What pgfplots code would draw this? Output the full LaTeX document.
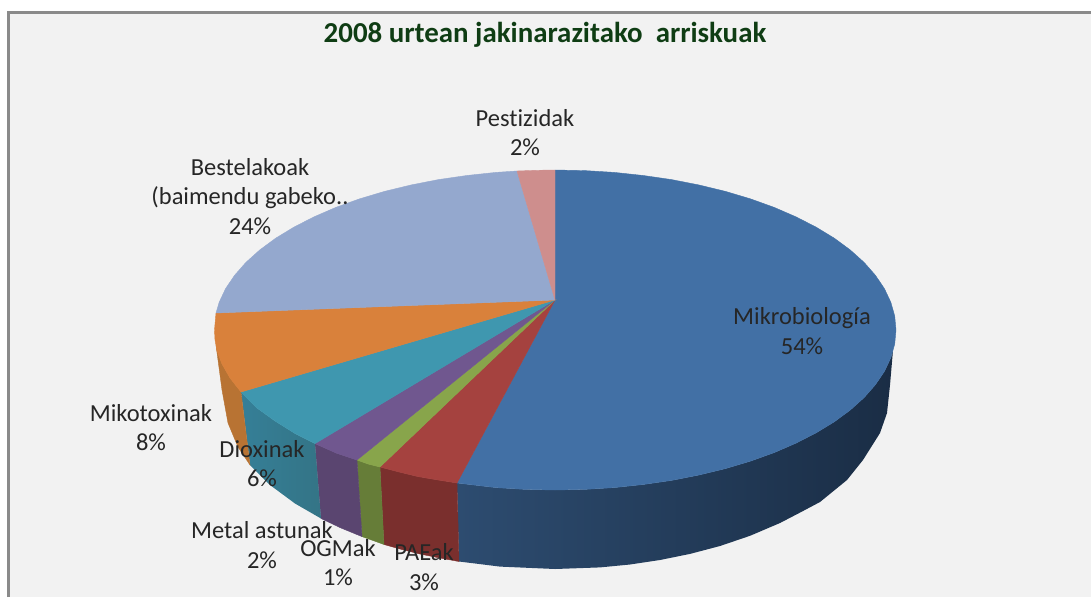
\documentclass[border=0pt]{standalone}
\usepackage{fontspec}
\setmainfont{Carlito}[Ligatures=NoCommon]
\usepackage{pgfplots}
\pgfplotsset{compat=1.18}
\definecolor{bg}{HTML}{F2F2F2}
\definecolor{frame}{HTML}{8A8A8A}
\definecolor{cBlue}{HTML}{4270A5}
\definecolor{cRed}{HTML}{A5423F}
\definecolor{cGreen}{HTML}{88A54B}
\definecolor{cPurple}{HTML}{70578F}
\definecolor{cTeal}{HTML}{3F97AF}
\definecolor{cOrange}{HTML}{D9813B}
\definecolor{cLight}{HTML}{94A8CE}
\definecolor{cPink}{HTML}{CE8E8D}
\definecolor{sRed}{HTML}{7A2F2D}
\definecolor{sGreen}{HTML}{667D38}
\definecolor{sPurple}{HTML}{5A4570}
\definecolor{sTealA}{HTML}{357F97}
\definecolor{sTealB}{HTML}{347486}
\definecolor{sOrange}{HTML}{B87333}
\definecolor{sBlueA}{HTML}{2D4C70}
\definecolor{sBlueB}{HTML}{1F3550}
\definecolor{sBlueC}{HTML}{1A2D45}
\definecolor{titleGreen}{HTML}{0F3D14}
\definecolor{lab}{HTML}{262626}
\tikzset{
  wedge/.style={fill=#1,draw=#1,line width=0.4pt,mark=none},
  lbl/.style={font=\fontsize{24.5}{29.5}\selectfont,align=center,text=lab,inner sep=0pt,anchor=center}
}
\begin{document}
\begin{tikzpicture}
\begin{axis}[
  scale only axis,width=1091pt,height=597pt,
  xmin=0,xmax=1091,ymin=0,ymax=597,y dir=reverse,
  hide axis,clip=true
]
% page, background panel and frame
\addplot[fill=white,draw=none,mark=none] coordinates {(0,0)(1091,0)(1091,597)(0,597)} -- cycle;
\addplot[fill=bg,draw=none,mark=none] coordinates {(9,13)(1091,13)(1091,597)(9,597)} -- cycle;
\addplot[draw=frame,line width=2.2pt,mark=none] coordinates {(8.5,597)(8.5,12.5)(1091,12.5)};
% side walls
\addplot[shade,left color=sBlueA,middle color=sBlueB,right color=sBlueC,draw=none,mark=none] coordinates {
 (457,483)(495.8,487.6)(525.3,489.4)(555,490)(584.7,489.4)(614.2,487.6)(643.3,484.5)(671.6,480.4)(699.1,475)(725.5,468.6)(750.6,461.1)(774.2,452.6)(796.1,443.1)(816.2,432.8)(834.3,421.8)(850.3,410)(864.1,397.6)(875.4,384.7)(884.4,371.4)(890.8,357.8)(893,350)
 (890,385)(887,413)(880,433)(863,460)(847,480)(820,502)(800,512.6)(780,523)(750,535.8)(720,546)(690,553.9)(660,560)(630,564.5)(600,567.4)(555,569)(500,566.6)(459,561.5)} -- cycle;
\addplot[wedge=sRed] coordinates {(380,467)(399,472)(418,476.6)(438,480)(457,483)(459,561.5)(440,558)(420,554)(400,549)(384,544.5)} -- cycle;
\addplot[wedge=sGreen] coordinates {(357,460)(368,464)(380,467)(384,544.5)(373,540.5)(362,536.6)} -- cycle;
\addplot[wedge=sPurple] coordinates {(315,443.6)(336,453)(357,460)(362,536.6)(341,528)(321,518.5)} -- cycle;
\addplot[shade,left color=sTealA,right color=sTealB,draw=none,mark=none] coordinates {(241,392)(257,408)(275,421)(295,433.5)(315,443.6)(321,518.5)(295,503.5)(270,485)(250,465)} -- cycle;
\addplot[wedge=sOrange] coordinates {(216,345)(217,351)(222,364)(230,378)(241,392)(250,465)(238,447)(228,423)(222,390)} -- cycle;
% top face, shares 54, 3, 1, 2, 6, 8, 24, 2 per cent
\addplot[wedge=cBlue] coordinates {(555,300)(555,170)(584.7,170.6)(614.2,172.4)(643.3,175.5)(671.6,179.6)(699.1,185)(725.5,191.4)(750.6,198.9)(774.2,207.4)(796.1,216.9)(816.2,227.2)(834.3,238.2)(850.3,250)(864.1,262.4)(875.4,275.3)(884.4,288.6)(890.8,302.2)(894.7,316)(896,330)(894.7,344)(890.8,357.8)(884.4,371.4)(875.4,384.7)(864.1,397.6)(850.3,410)(834.3,421.8)(816.2,432.8)(796.1,443.1)(774.2,452.6)(750.6,461.1)(725.5,468.6)(699.1,475)(671.6,480.4)(643.3,484.5)(614.2,487.6)(584.7,489.4)(555,490)(525.3,489.4)(495.8,487.6)(457,483)} -- cycle;
\addplot[wedge=cRed] coordinates {(555,300)(457,483)(438,480)(418,476.6)(399,472)(380,467)} -- cycle;
\addplot[wedge=cGreen] coordinates {(555,300)(380,467)(368,464)(357,460)} -- cycle;
\addplot[wedge=cPurple] coordinates {(555,300)(357,460)(336,453)(315,443.6)} -- cycle;
\addplot[wedge=cTeal] coordinates {(555,300)(315,443.6)(295,433.5)(275,421)(257,408)(241,392)} -- cycle;
\addplot[wedge=cOrange] coordinates {(555,300)(241,392)(230,378)(222,364)(217,351)(215,340)(214.5,330)(216,313)} -- cycle;
\addplot[wedge=cLight] coordinates {(555,300)(216,313)(219.2,302.2)(225.6,288.6)(234.6,275.3)(245.9,262.4)(259.7,250)(275.7,238.2)(293.8,227.2)(313.9,216.9)(335.8,207.4)(359.4,198.9)(384.5,191.4)(410.9,185)(438.4,179.6)(466.7,175.5)(495.8,172.4)(517,171)} -- cycle;
\addplot[wedge=cPink] coordinates {(555,300)(517,171)(536,170.3)(555,170)} -- cycle;
% texts
\node[font=\fontsize{28.9}{32}\selectfont\bfseries,text=titleGreen,inner sep=0pt] at (axis cs:545,35) {2008 urtean jakinarazitako\ \ arriskuak};
\node[lbl] at (axis cs:525,132.5) {Pestizidak\\2\%};
\node[lbl] at (axis cs:250,196.5) {Bestelakoak\\(baimendu gabeko..\\24\%};
\node[lbl] at (axis cs:802,331) {Mikrobiología\\54\%};
\node[lbl] at (axis cs:151,427.5) {Mikotoxinak\\8\%};
\node[lbl] at (axis cs:262,463.5) {Dioxinak\\6\%};
\node[lbl] at (axis cs:262,545) {Metal astunak\\2\%};
\node[lbl] at (axis cs:338,562.5) {OGMak\\1\%};
\node[lbl] at (axis cs:424,567) {PAEak\\3\%};
\end{axis}
\end{tikzpicture}
\end{document}
